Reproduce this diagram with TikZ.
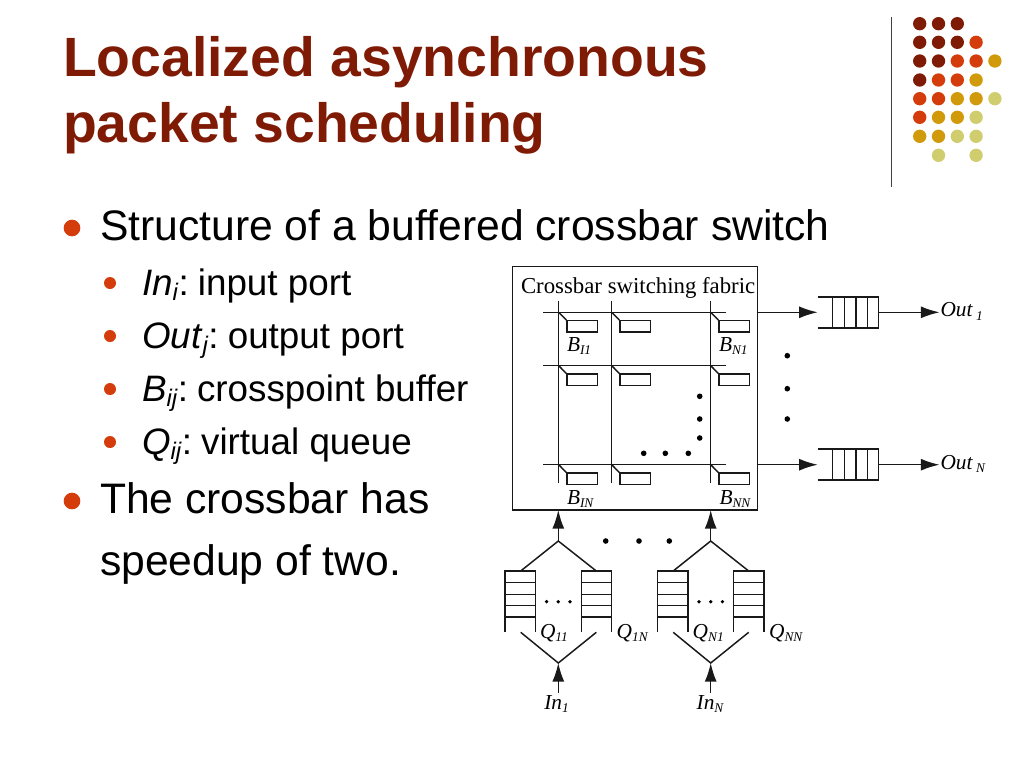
\documentclass[tikz,border=0pt]{standalone}
\usepackage{fontspec}
\setmainfont{Liberation Sans}
\newfontfamily\tms{Liberation Serif}
\usetikzlibrary{arrows.meta}
\definecolor{dkred}{HTML}{7F1A05}
\definecolor{orng}{HTML}{D43C0C}
\definecolor{gold}{HTML}{D09A0A}
\definecolor{khaki}{HTML}{CFCD6E}
\newcommand{\fsz}[1]{\fontsize{#1}{#1}\selectfont}
\newcommand{\lab}[2]{{\tms\itshape\fsz{16}#1\raisebox{-2.4pt}{\fsz{10}#2}}}
\newcommand{\slab}[2]{{\fsz{27.6}\textit{#1}\raisebox{-4pt}{\fsz{18}\textit{#2}}:\hspace{-3.4pt} }}
\tikzset{
  x=0.75pt,y=-0.75pt,
  ln/.style={draw=black!90,line width=1.1pt},
  arr/.style={ln,-{Latex[length=14pt,width=9pt]},shorten >=0pt},
  txt/.style={inner sep=0pt,outer sep=0pt,anchor=base west},
  ttl/.style={txt,text=dkred,font=\bfseries\fsz{41.5}},
  lv1/.style={txt,text=black,font=\fsz{32}},
  lv2/.style={txt,text=black,font=\fsz{27.6}},
  bul1/.style={circle,fill=orng,minimum size=12.5pt,inner sep=0pt},
  bul2/.style={circle,fill=orng,minimum size=9pt,inner sep=0pt},
  deco/.style={circle,minimum size=10pt,inner sep=0pt},
  dotb/.style={circle,fill=black,minimum size=4.2pt,inner sep=0pt},
  dots/.style={circle,fill=black,minimum size=2.8pt,inner sep=0pt},
  buf/.style={draw=black!90,line width=1.1pt,minimum width=23pt,minimum height=8.6pt,inner sep=0pt,anchor=north west}
}
\begin{document}
\begin{tikzpicture}
\useasboundingbox[fill=white] (0,0) rectangle (1024,768);
% decoration
\coordinate (rt) at (891.7,17); \coordinate (rb) at (891.7,187);
\draw[line width=0.9pt,draw=black!75] (rt) -- (rb);
\foreach \yy/\row in {23.7/{dkred,dkred,dkred,none,none},42.3/{dkred,dkred,dkred,orng,none},61/{dkred,dkred,orng,orng,gold},80/{dkred,orng,orng,gold,none},98.7/{orng,orng,gold,gold,khaki},117.3/{orng,gold,gold,khaki,none},136.3/{gold,gold,khaki,khaki,none},155.3/{none,khaki,none,khaki,none}}{
  \foreach \cc [count=\i from 0] in \row {
    \node[deco,fill=\cc] (d\i-\yy) at (919.7+18.8*\i,\yy) {};
  }
}
% text
\node[ttl] (t1) at (63,76) {Localized asynchronous};
\node[ttl] (t2) at (63,142) {packet scheduling};
\node[bul1] (b1) at (72,228) {};
\node[lv1] (l1) at (100,240) {Structure of a buffered crossbar switch};
\node[bul2] (b2) at (110,283) {};
\node[lv2] (l2) at (142,295) {\slab{In}{i}input port};
\node[bul2] (b3) at (110,336) {};
\node[lv2] (l3) at (142,348) {\slab{Out}{j}output port};
\node[bul2] (b4) at (110,389) {};
\node[lv2] (l4) at (142,401) {\slab{B}{ij}crosspoint buffer};
\node[bul2] (b5) at (110,442) {};
\node[lv2] (l5) at (142,454) {\slab{Q}{ij}virtual queue};
\node[bul1] (b6) at (72,501) {};
\node[lv1] (l6) at (100,513) {The crossbar has};
\node[lv1] (l7) at (100,575) {speedup of two.};
% fabric
\coordinate (fa) at (512.7,266.7); \coordinate (fb) at (757.3,510);
\draw[ln] (fa) rectangle (fb);
\node[txt,font=\tms\fsz{17.1}] (cap) at (521,293.5) {Crossbar switching fabric};
\foreach \y [count=\r] in {312.3,365.7,464.7}{
  \coordinate (hl\r) at (543.3,\y); \coordinate (hr\r) at (726,\y);
  \draw[ln] (hl\r) -- (hr\r);
}
\foreach \x [count=\c] in {558.7,611.7,710.7}{
  \coordinate (vt\c) at (\x,301.3); \coordinate (vb\c) at (\x,482.7);
  \draw[ln] (vt\c) -- (vb\c);
  \foreach \y [count=\r] in {312.3,365.7,464.7}{
    \coordinate (x\c\r) at (\x,\y);
    \node[buf] (buf\c\r) at (\x+7.6,\y+7.7) {};
    \draw[ln] (x\c\r) -- (buf\c\r.north west);
  }
}
\node[txt] (b11) at (567,351.7) {\lab{B}{I1}};
\node[txt] (bn1) at (719,351.7) {\lab{B}{N1}};
\node[txt] (b1n) at (567,504) {\lab{B}{IN}};
\node[txt] (bnn) at (719.5,504) {\lab{B}{NN}};
\foreach \x/\y [count=\i] in {699.7/396.3,699.7/419,699.7/438,643.7/453.3,665.3/453.3,688.3/453.3,787.3/355.7,787.3/388.7,787.3/419,605.7/541,639/541,669.3/541}{
  \node[dotb] (dot\i) at (\x,\y) {};
}
% output queues
\foreach \y/\nm/\sb [count=\q] in {312.3/Out/1,464.7/Out/N}{
  \coordinate (os\q) at (757.3,\y);
  \coordinate (oq\q) at (817.7,\y);
  \coordinate (oe\q) at (878.7,\y);
  \coordinate (oo\q) at (939.5,\y);
  \draw[arr] (os\q) -- (oq\q);
  \draw[ln] (817.7,\y-15.5) -- (878.7,\y-15.5) -- (878.7,\y+15.5) -- (817.7,\y+15.5);
  \foreach \v in {832.7,844.3,856,867.3}{\draw[ln] (\v,\y-15.5) -- (\v,\y+15.5);}
  \draw[arr] (oe\q) -- (oo\q);
  \node[txt] (olab\q) at (940.5,\y+4.5) {\lab{\nm\,}{\sb}};
}
% input queues
\foreach \xa/\xb/\xc/\qa/\qb/\qal/\qbl/\inl [count=\g] in
 {558.3/520.7/596.3/505/581.3/{11}/{1N}/{1},710.7/673.2/748.7/657.7/733.7/{N1}/{NN}/{N}}{
  \coordinate (ap\g) at (\xa,541);
  \coordinate (tip\g) at (\xa,510);
  \coordinate (fl\g) at (\xb,571);
  \coordinate (fr\g) at (\xc,571);
  \draw[arr] (ap\g) -- (tip\g);
  \draw[ln] (fl\g) -- (ap\g) -- (fr\g);
  \foreach \qx in {\qa,\qb}{
    \draw[ln] (\qx,631.7) -- (\qx,571) -- (\qx+30.4,571) -- (\qx+30.4,631.7);
    \foreach \qy in {582.7,594.3,605.7,617}{\draw[ln] (\qx,\qy) -- (\qx+30.4,\qy);}
  }
  \coordinate (ll\g) at (\xb,632.3);
  \coordinate (lr\g) at (\xc,632.3);
  \coordinate (la\g) at (\xa,663);
  \coordinate (ib\g) at (\xa,692.7);
  \draw[ln] (ll\g) -- (la\g) -- (lr\g);
  \draw[arr] (ib\g) -- (la\g);
  \node[txt] (qla\g) at (\qa+35,638) {\lab{Q}{\qal}};
  \node[txt] (qlb\g) at (\qb+35.4,638) {\lab{Q}{\qbl}};
  \node[txt] (inl\g) at (\xa-14,709) {\lab{In}{\inl}};
  \foreach \dd [count=\k] in {-11.7,0,11.7}{\node[dots] (sd\g\k) at (\xa+\dd,601.7) {};}
}
\end{tikzpicture}
\end{document}
